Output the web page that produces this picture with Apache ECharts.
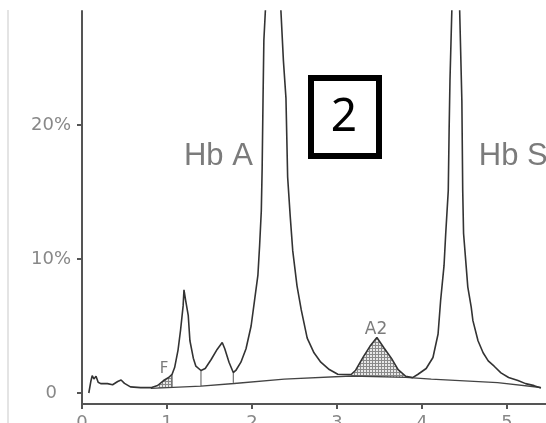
<!DOCTYPE html>
<html><head><meta charset="utf-8">
<script src="https://cdn.jsdelivr.net/npm/echarts@6/dist/echarts.min.js"></script>
<style>html,body{margin:0;padding:0;background:#fff}#c{width:546px;height:423px}</style>
</head><body><div id="c"></div>
<script>
// ---- data (x: retention time, y: %) ----
const xTicks = [0, 1, 2, 3, 4, 5];
const yTicks = [0, 10, 20];
const trace = [
  [0.08,0],[0.105,0.9],[0.12,1.3],[0.14,1.05],[0.165,1.25],[0.19,0.8],[0.22,0.7],[0.3,0.7],
  [0.36,0.62],[0.42,0.86],[0.46,0.97],[0.5,0.72],[0.57,0.46],[0.69,0.4],[0.81,0.4],[0.89,0.56],
  [0.96,0.93],[1.02,1.16],[1.06,1.4],[1.09,1.9],[1.13,3.2],[1.16,4.7],[1.19,6.5],[1.2,7.7],
  [1.22,6.9],[1.25,5.8],[1.27,3.9],[1.31,2.6],[1.34,2.0],[1.4,1.68],[1.45,1.83],[1.52,2.5],
  [1.59,3.25],[1.65,3.77],[1.68,3.3],[1.73,2.3],[1.78,1.53],[1.81,1.68],[1.87,2.3],[1.93,3.3],
  [1.99,5.0],[2.03,6.9],[2.07,8.8],[2.09,11.0],[2.11,13.6],[2.12,16.8],[2.13,21.8],[2.14,26.3],
  [2.25,40],[2.37,24.8],[2.40,22.0],[2.42,16.1],[2.45,13.2],[2.48,10.6],[2.53,8.0],[2.58,6.2],
  [2.65,4.1],[2.73,3.0],[2.81,2.3],[2.91,1.75],[3.01,1.4],[3.14,1.38],[3.17,1.4],[3.22,1.7],
  [3.31,2.7],[3.39,3.5],[3.47,4.15],[3.55,3.4],[3.64,2.6],[3.72,1.75],[3.81,1.25],[3.89,1.15],
  [3.95,1.38],[4.05,1.83],[4.13,2.65],[4.19,4.4],[4.22,6.9],[4.26,9.5],[4.28,11.9],[4.31,15.1],
  [4.32,19.6],[4.33,23.3],[4.40,40],[4.47,21.8],[4.48,15.1],[4.49,11.9],[4.52,9.5],[4.54,7.9],
  [4.58,6.4],[4.60,5.4],[4.66,3.9],[4.72,3.0],[4.78,2.4],[4.85,2.0],[4.93,1.5],[5.02,1.16],
  [5.13,0.93],[5.22,0.7],[5.32,0.55],[5.40,0.37]
];
const baseline = [[0.81,0.34],[1.4,0.52],[1.79,0.71],[2.38,1.04],[3.17,1.27],[3.81,1.16],[4.11,1.04],[4.89,0.78],[5.4,0.41]];
const shadeRanges = [[0.9,1.06],[3.17,3.81]];
const dropX = [1.06, 1.4, 1.78];
const labelText = ['Hb A', 'Hb S', 'F', 'A2'];
const labelX = [1.2, 4.67, 0.965, 3.46];
const labelY = [17.65, 17.65, 1.75, 4.75];

function interp(arr, x) {
  for (let i = 0; i < arr.length - 1; i++) {
    const a = arr[i], b = arr[i + 1];
    if (x >= a[0] && x <= b[0]) return a[1] + (b[1] - a[1]) * (x - a[0]) / (b[0] - a[0]);
  }
  return arr[arr.length - 1][1];
}

// hatch pattern
const pc = document.createElement('canvas');
pc.width = 3; pc.height = 3;
const pctx = pc.getContext('2d');
pctx.fillStyle = '#e8e8e8'; pctx.fillRect(0, 0, 3, 3);
pctx.fillStyle = '#8a8a8a'; pctx.fillRect(0, 0, 3, 1); pctx.fillRect(0, 0, 1, 3);

const labelStyles = [
  {fontSize: 31, fontFamily: 'Liberation Sans', align: 'left'},
  {fontSize: 31, fontFamily: 'Liberation Sans', align: 'left'},
  {fontSize: 15, fontFamily: 'DejaVu Sans', align: 'center'},
  {fontSize: 17, fontFamily: 'DejaVu Sans', align: 'center'}
];

const chart = echarts.init(document.getElementById('c'), null, {renderer: 'canvas'});
chart.setOption({
  animation: false,
  backgroundColor: '#fff',
  grid: {left: 82, right: 0, top: 11, bottom: 19, containLabel: false, outerBoundsMode: 'none'},
  xAxis: {
    type: 'value', min: 0, max: 5.46, interval: 1,
    axisLine: {onZero: false, lineStyle: {color: '#555', width: 2}},
    axisTick: {length: 5, lineStyle: {color: '#555', width: 2}, customValues: xTicks},
    axisLabel: {customValues: xTicks, margin: 10, fontSize: 18, color: '#888', fontFamily: 'DejaVu Sans'},
    splitLine: {show: false}
  },
  yAxis: {
    type: 'value', min: -0.82, max: 28.5,
    axisLine: {show: true, onZero: false, lineStyle: {color: '#555', width: 2}},
    axisTick: {show: true, length: 5, lineStyle: {color: '#555', width: 2}, customValues: yTicks},
    axisLabel: {
      customValues: yTicks, margin: 11, fontSize: 18, color: '#888', fontFamily: 'DejaVu Sans',
      formatter: v => v === 0 ? '{z|0}' : v + '%',
      rich: {z: {fontSize: 18, color: '#888', fontFamily: 'DejaVu Sans', padding: [0, 14, 0, 0]}}
    },
    splitLine: {show: false}
  },
  graphic: [
    {type: 'line', shape: {x1: 8, y1: 10, x2: 8, y2: 423}, style: {stroke: '#e4e4e4', lineWidth: 2}},
    {type: 'rect', shape: {x: 311, y: 78, width: 68, height: 78}, style: {fill: '#fff', stroke: '#000', lineWidth: 6}, z: 100},
    {type: 'text', x: 344, y: 118, style: {text: '2', fill: '#000', font: '46px "Noto Sans"', textAlign: 'center', textVerticalAlign: 'middle'}, z: 101}
  ],
  series: [
    {
      type: 'custom', clip: true, z: 1,
      data: shadeRanges,
      renderItem: function (params, api) {
        const r = shadeRanges[params.dataIndex];
        const pts = [api.coord([r[0], interp(baseline, r[0])]), api.coord([r[0], interp(trace, r[0])])];
        trace.forEach(p => { if (p[0] > r[0] && p[0] < r[1]) pts.push(api.coord(p)); });
        pts.push(api.coord([r[1], interp(trace, r[1])]));
        pts.push(api.coord([r[1], interp(baseline, r[1])]));
        return {type: 'polygon', shape: {points: pts}, style: {fill: {image: pc, repeat: 'repeat'}, stroke: null}};
      }
    },
    {
      type: 'custom', clip: true, z: 2,
      data: dropX.map(x => [x, 0]),
      renderItem: function (params, api) {
        const x = dropX[params.dataIndex];
        const a = api.coord([x, interp(baseline, x)]);
        const b = api.coord([x, interp(trace, x)]);
        return {type: 'line', shape: {x1: a[0], y1: a[1], x2: b[0], y2: b[1]}, style: {stroke: '#555', lineWidth: 1}};
      }
    },
    {
      type: 'line', data: baseline, symbol: 'none', z: 3,
      lineStyle: {color: '#444', width: 1.3}
    },
    {
      type: 'line', data: trace, symbol: 'none', z: 4, clip: true,
      lineStyle: {color: '#333', width: 1.6}
    },
    {
      type: 'scatter', symbolSize: 0, z: 5,
      data: labelText.map((t, i) => ({
        value: [labelX[i], labelY[i]], name: t,
        label: Object.assign({show: true, position: [0, 0], verticalAlign: 'middle', color: '#5a5a5a', formatter: t}, labelStyles[i])
      }))
    }
  ]
});
</script></body></html>
